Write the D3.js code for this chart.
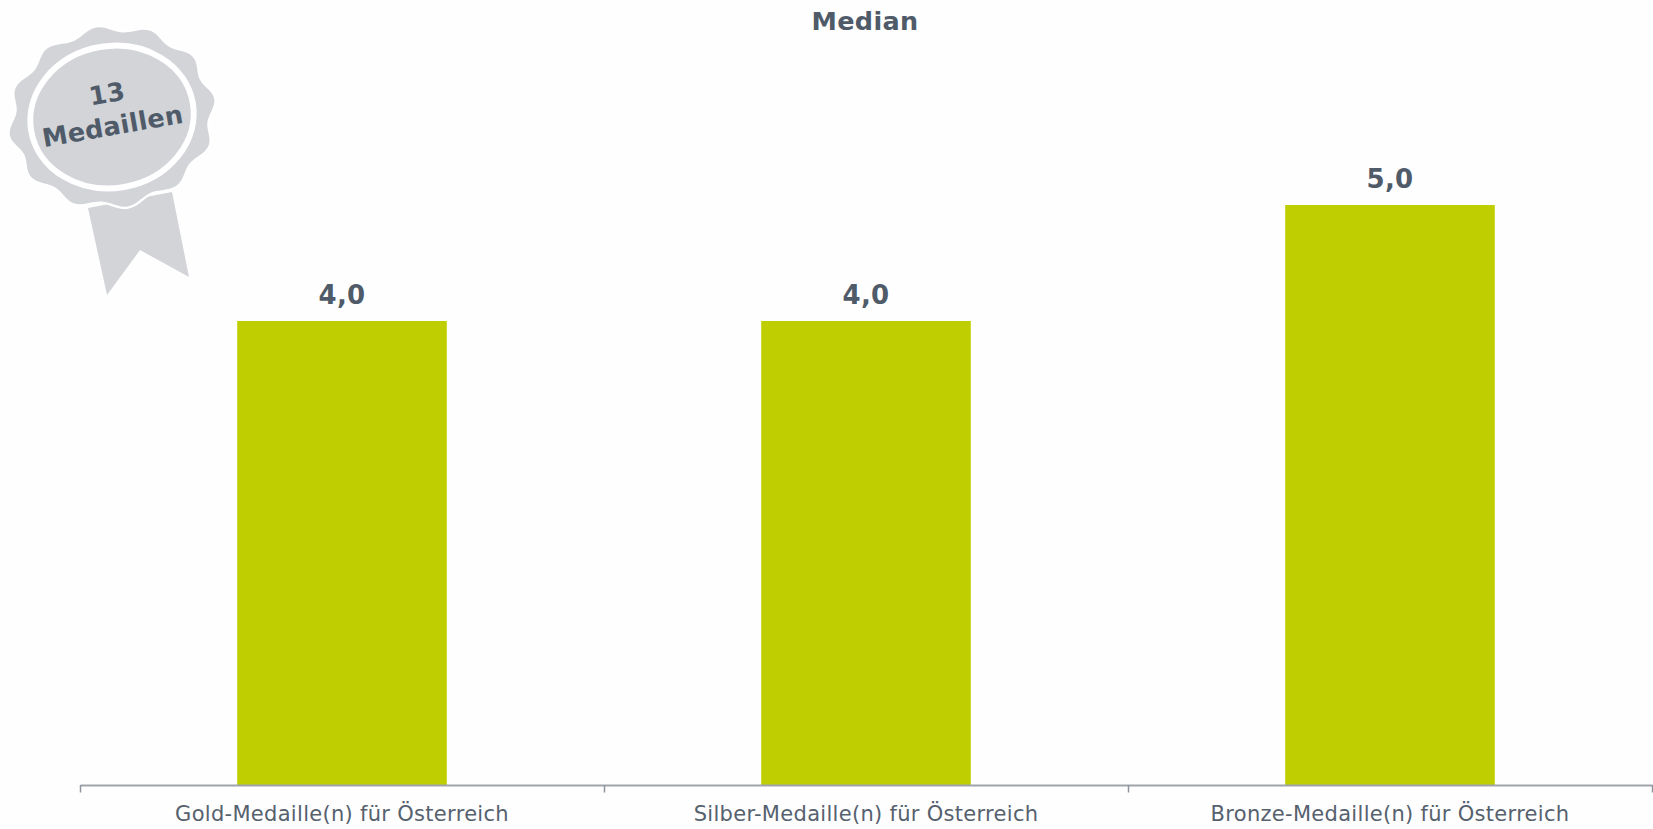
<!DOCTYPE html>
<html>
<head>
<meta charset="utf-8">
<script src="https://d3js.org/d3.v7.min.js"></script>
<style>
  body { margin: 0; background: #fefefe; }
  text { font-family: "DejaVu Sans", sans-serif; fill: #4f5b69; }
</style>
</head>
<body>
<div id="mychart"></div>
<script>
var categories = ["Gold-Medaille(n) für Österreich", "Silber-Medaille(n) für Österreich", "Bronze-Medaille(n) für Österreich"];
var values = [4.0, 4.0, 5.0];
var valueLabels = ["4,0", "4,0", "5,0"];
var chartTitle = "Median";
var badgeLines = ["13", "Medaillen"];

var margin = {left: 80, right: 1, top: 205, bottom: 44};
var width = 1653 - margin.left - margin.right,
    height = 829 - margin.top - margin.bottom;

var svg = d3.select("#mychart")
  .append("svg")
    .attr("width", 1653)
    .attr("height", 829)
    .style("display", "block");

var g = svg.append("g")
    .attr("transform", "translate(" + margin.left + "," + margin.top + ")");

var x = d3.scaleBand()
  .domain(categories)
  .range([0, width])
  .paddingInner(0.6)
  .paddingOuter(0.3);

var y = d3.scaleLinear().domain([0, 5]).range([height, 0]);

// bars
g.selectAll(".bar")
  .data(values)
  .enter()
  .append("rect")
    .attr("class", "bar")
    .attr("x", function(d, i) { return x(categories[i]); })
    .attr("width", x.bandwidth())
    .attr("y", function(d) { return y(d); })
    .attr("height", function(d) { return y(0) - y(d); })
    .attr("fill", "#bfce00");

// value labels
g.selectAll(".val")
  .data(values)
  .enter()
  .append("text")
    .attr("class", "val")
    .attr("x", function(d, i) { return x(categories[i]) + x.bandwidth() / 2; })
    .attr("y", function(d) { return y(d) - 17.5; })
    .attr("text-anchor", "middle")
    .attr("font-size", 26)
    .attr("font-weight", "bold")
    .attr("letter-spacing", 0.3)
    .text(function(d, i) { return valueLabels[i]; });

// x axis, ticks sit on the category boundaries
var axis = g.append("g")
    .attr("transform", "translate(0," + height + ")")
    .call(d3.axisBottom(x).tickSize(0).tickPadding(21.5));
axis.select(".domain").attr("stroke", "#9fa4ac").attr("stroke-width", 2);
axis.selectAll("text")
    .attr("font-size", 21)
    .attr("letter-spacing", 0.3)
    .style("font-family", '"DejaVu Sans", sans-serif')
    .style("fill", "#56616e");

var step = x.step();
axis.selectAll(".bound")
  .data(d3.range(categories.length + 1))
  .enter()
  .append("line")
    .attr("class", "bound")
    .attr("x1", function(d) { return d * step + 0.5; })
    .attr("x2", function(d) { return d * step + 0.5; })
    .attr("y1", 0)
    .attr("y2", 7.5)
    .attr("stroke", "#8f959e")
    .attr("stroke-width", 1.5);

// title
svg.append("text")
    .attr("x", 865)
    .attr("y", 30)
    .attr("text-anchor", "middle")
    .attr("font-size", 25.5)
    .attr("font-weight", "bold")
    .attr("letter-spacing", 0.35)
    .text(chartTitle);

// medal badge
var badge = svg.append("g").attr("transform", "translate(112,117) rotate(-10)");

svg.insert("path", "g")
    .attr("d", "M88,208L172,192L189,277L140,250L107,295Z")
    .attr("fill", "#d2d4d8");

var bumps = 12;
var rosette = d3.lineRadial()
  .angle(function(d) { return d; })
  .radius(function(d) { return 97.5 + 4 * Math.cos(bumps * d); })
  .curve(d3.curveBasisClosed);

badge.append("path")
    .attr("d", rosette(d3.range(0, 2 * Math.PI, Math.PI / 48)))
    .attr("transform", "scale(1.04,0.91)")
    .attr("fill", "#d2d4d8")
    .attr("stroke", "#ffffff")
    .attr("stroke-width", 2.5);

badge.append("ellipse")
    .attr("rx", 82)
    .attr("ry", 71)
    .attr("fill", "#d2d4d8")
    .attr("stroke", "#ffffff")
    .attr("stroke-width", 6);

badge.selectAll(".badgeText")
  .data(badgeLines)
  .enter()
  .append("text")
    .attr("class", "badgeText")
    .attr("x", -1)
    .attr("y", function(d, i) { return -15 + i * 33; })
    .attr("text-anchor", "middle")
    .attr("font-size", 25.5)
    .attr("font-weight", "bold")
    .attr("letter-spacing", 0.3)
    .text(function(d) { return d; });
</script>
</body>
</html>
